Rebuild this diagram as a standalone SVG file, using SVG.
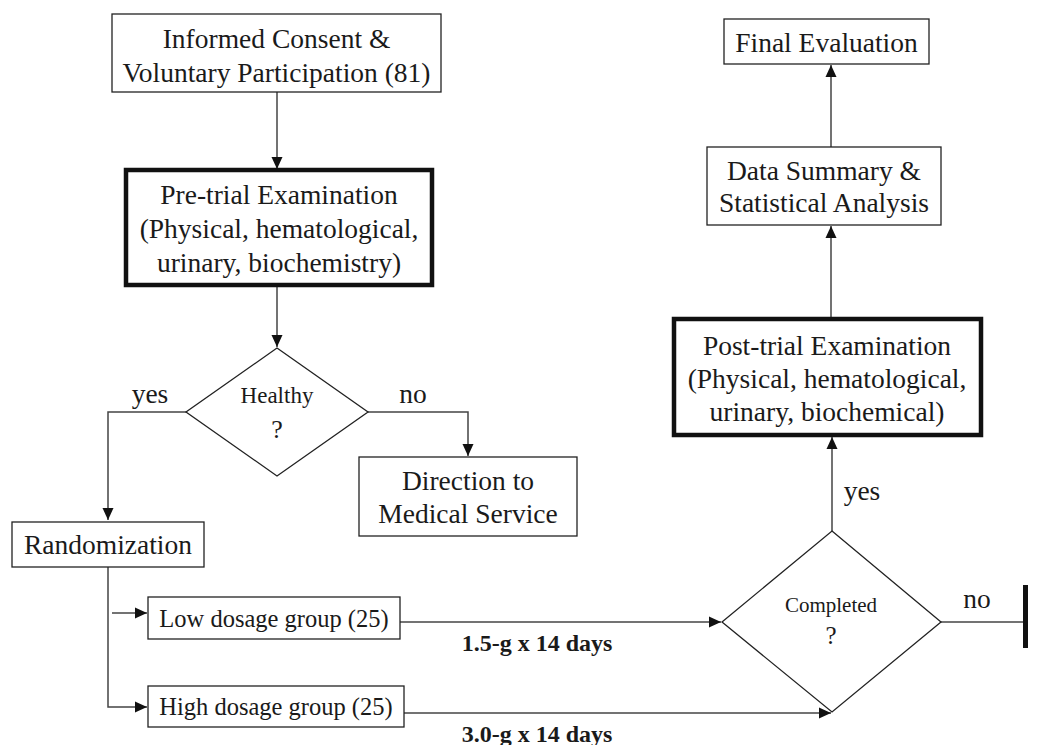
<svg xmlns="http://www.w3.org/2000/svg" width="1038" height="745" viewBox="0 0 1038 745">
<style>
.box{fill:#fff;stroke:#222;stroke-width:1.3}
.thick{fill:#fff;stroke:#111;stroke-width:4.5}
.t{font-family:"Liberation Serif","Times New Roman",serif;fill:#1a1a1a;text-anchor:middle;font-size:27.5px}
.s{font-size:24.5px}
.b{font-weight:bold;font-size:24px}
.ln{fill:none;stroke:#444;stroke-width:1.5}
</style>
<defs>
<marker id="ah" markerUnits="userSpaceOnUse" markerWidth="14" markerHeight="12" refX="12" refY="6" orient="auto">
<path d="M0,0.5 L12,6 L0,11.5 Z" fill="#111"/>
</marker>
</defs>
<rect width="1038" height="745" fill="#fff"/>
<g id="connectors">
<path class="ln" d="M277,92 V169" marker-end="url(#ah)"/>
<path class="ln" d="M277,287 V347" marker-end="url(#ah)"/>
<path class="ln" d="M186,412 H108 V520" marker-end="url(#ah)"/>
<path class="ln" d="M368,412 H468 V456" marker-end="url(#ah)"/>
<path class="ln" d="M108,567 V707 H147" marker-end="url(#ah)"/>
<path class="ln" d="M112,613 H147" marker-end="url(#ah)"/>
<path class="ln" d="M400,622 H721" marker-end="url(#ah)"/>
<path class="ln" d="M404,713 H831" marker-end="url(#ah)"/>
<path class="ln" d="M832,531 V437" marker-end="url(#ah)"/>
<path class="ln" d="M831,317 V226" marker-end="url(#ah)"/>
<path class="ln" d="M831,147 V65" marker-end="url(#ah)"/>
<path class="ln" d="M941,622 H1025"/>
<rect x="1023" y="585" width="5" height="63" fill="#111"/>
<text class="t" x="150" y="403">yes</text>
<text class="t" x="413" y="403">no</text>
<text class="t" x="862" y="500">yes</text>
<text class="t" x="977" y="608">no</text>
<text class="t b" x="537" y="651">1.5-g x 14 days</text>
<text class="t b" x="537" y="742">3.0-g x 14 days</text>
</g>
<g id="consent">
<rect class="box" x="112" y="14" width="329" height="78"/>
<text class="t" x="276.5" y="48">Informed Consent &amp;</text>
<text class="t" x="276.5" y="82">Voluntary Participation (81)</text>
</g>
<g id="pretrial">
<rect class="thick" x="126" y="170" width="306" height="115"/>
<text class="t" x="279" y="204">Pre-trial Examination</text>
<text class="t" x="279" y="238">(Physical, hematological,</text>
<text class="t" x="279" y="272">urinary, biochemistry)</text>
</g>
<g id="healthy">
<polygon class="box" points="277,348 368,412 277,476 186,412"/>
<text class="t" x="277" y="403" style="font-size:23px">Healthy</text>
<text class="t" x="277" y="438" style="font-size:26px">?</text>
</g>
<g id="direction">
<rect class="box" x="359" y="457" width="218" height="79"/>
<text class="t" x="468" y="490">Direction to</text>
<text class="t" x="468" y="523">Medical Service</text>
</g>
<g id="randomization">
<rect class="box" x="12" y="522" width="192" height="45"/>
<text class="t" x="108" y="554">Randomization</text>
</g>
<g id="low">
<rect class="box" x="148" y="597" width="252" height="42"/>
<text class="t s" x="274" y="627">Low dosage group (25)</text>
</g>
<g id="high">
<rect class="box" x="148" y="686" width="256" height="41"/>
<text class="t s" x="276" y="715">High dosage group (25)</text>
</g>
<g id="completed">
<polygon class="box" points="832,531 941,622 832,712 722,622"/>
<text class="t" x="831" y="612" style="font-size:21px">Completed</text>
<text class="t" x="831" y="644" style="font-size:25px">?</text>
</g>
<g id="posttrial">
<rect class="thick" x="674" y="319" width="307" height="116"/>
<text class="t" x="827" y="355">Post-trial Examination</text>
<text class="t" x="827" y="388">(Physical, hematological,</text>
<text class="t" x="827" y="421">urinary, biochemical)</text>
</g>
<g id="summary">
<rect class="box" x="707" y="147" width="234" height="78"/>
<text class="t" x="824" y="180">Data Summary &amp;</text>
<text class="t" x="824" y="212">Statistical Analysis</text>
</g>
<g id="final">
<rect class="box" x="724" y="19" width="205" height="45"/>
<text class="t" x="826.5" y="52">Final Evaluation</text>
</g>
</svg>
